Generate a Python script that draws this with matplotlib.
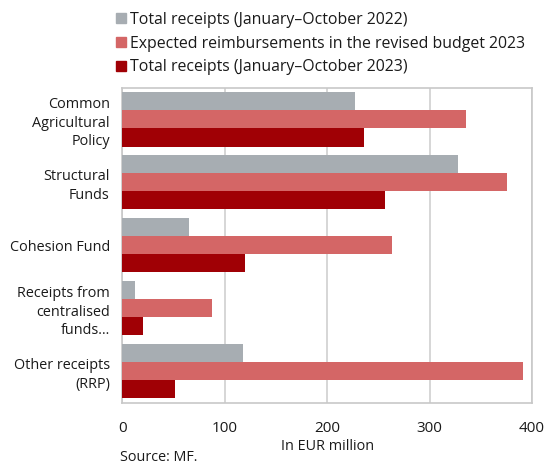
import numpy as np
import matplotlib.pyplot as plt
from matplotlib.patches import Patch

plt.rcParams['font.family'] = ['Open Sans', 'DejaVu Sans']

categories = ['Common\nAgricultural\nPolicy', 'Structural\nFunds', 'Cohesion Fund',
              'Receipts from\ncentralised\nfunds…', 'Other receipts\n(RRP)']
receipts_2022 = [227, 328, 65, 12, 118]
expected_2023 = [336, 376, 263, 88, 391]
receipts_2023 = [236, 256, 120, 20, 51]

series = [
    ('Total receipts (January–October 2022)', receipts_2022, '#a7adb2'),
    ('Expected reimbursements in the revised budget 2023', expected_2023, '#d46666'),
    ('Total receipts (January–October 2023)', receipts_2023, '#a00005'),
]

txt = '#1a1a1a'

fig = plt.figure(figsize=(5.49, 4.68), dpi=100)
ax = fig.add_axes([0.2228, 0.139, 0.969 - 0.2228, 0.812 - 0.139])

y = np.arange(len(categories))
h = 0.286
for i, (name, vals, col) in enumerate(series):
    ax.barh(y + (i - 1) * h, vals, height=h, color=col, zorder=3)

ax.set_ylim(len(categories) - 0.5, -0.5)
ax.set_xlim(0, 400)
ax.set_xticks([0, 100, 200, 300, 400])
ax.set_yticks(y)
ax.set_yticklabels(categories, fontsize=10.4, color=txt, linespacing=1.3)
ax.tick_params(axis='y', length=0, pad=9)
ax.tick_params(axis='x', length=0, pad=13, labelsize=11, labelcolor=txt)
ax.grid(axis='x', color='#d0d0d0', linewidth=1.2, zorder=0)
for s in ax.spines.values():
    s.set_color('#c8c8c8')
    s.set_linewidth(1.2)

ax.set_xlabel('In EUR million', fontsize=10.4, color=txt, labelpad=2)

handles = [Patch(color=c, label=n) for n, _, c in series]
fig.legend(handles=handles, loc='upper left', bbox_to_anchor=(0.2, 0.988),
           frameon=False, fontsize=11.4, handlelength=0.6, handleheight=0.6,
           handletextpad=0.3, labelspacing=0.48, borderaxespad=0,
           labelcolor=txt)

fig.text(0.218, 0.006, 'Source: MF.', fontsize=10.4, color=txt, va='bottom')

fig.savefig('out.png', dpi=100)
